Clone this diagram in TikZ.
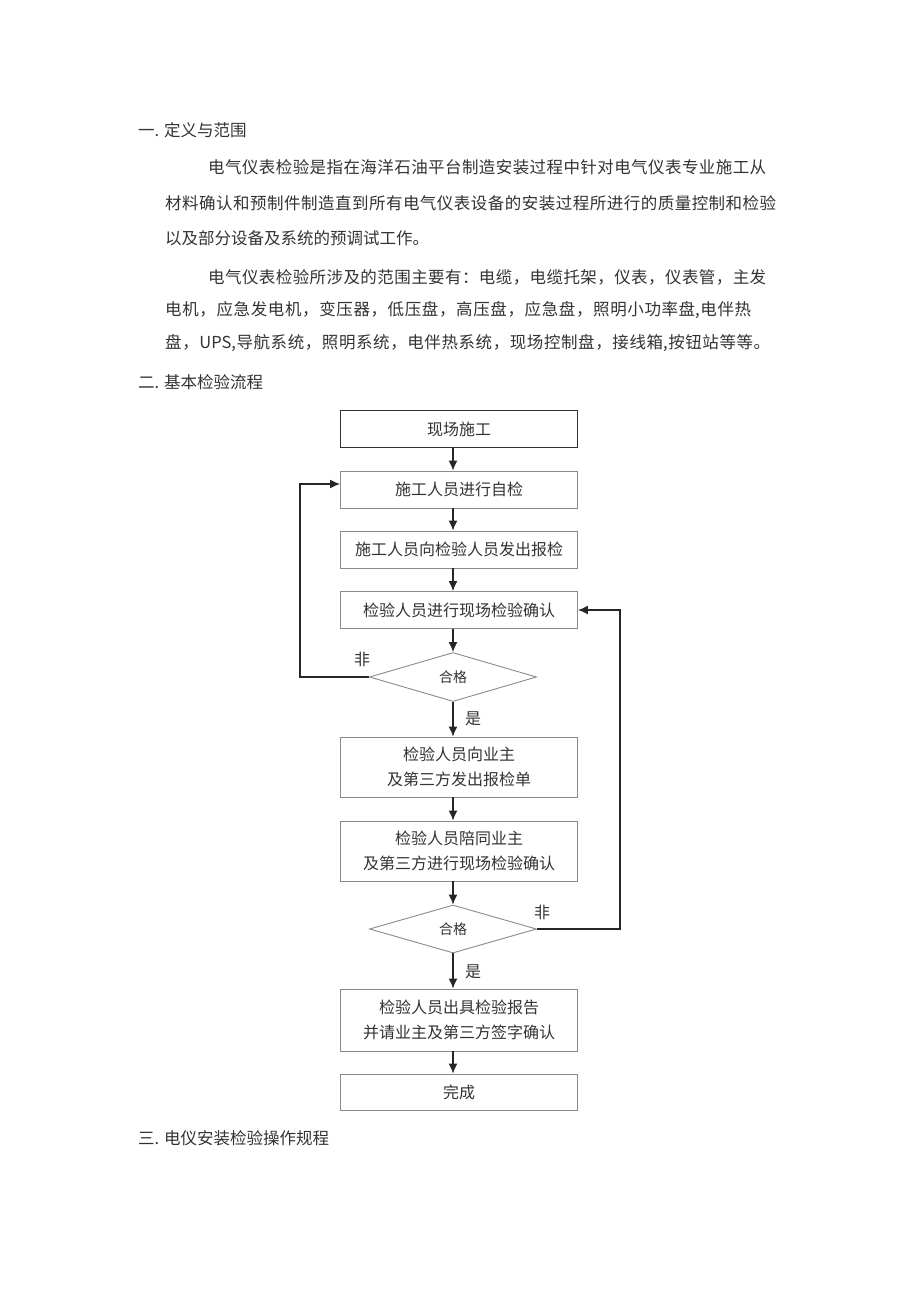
\documentclass[tikz,border=0pt]{standalone}
\usepackage{fontspec}
\setmainfont{Noto Sans CJK SC}
\usetikzlibrary{shapes.geometric,arrows.meta}
\definecolor{inkgray}{HTML}{333333}
\definecolor{boxgray}{HTML}{8A8A8A}
\definecolor{linegray}{HTML}{262626}
\newcommand{\bodySize}[0]{\fontsize{16.5}{20}\selectfont}
\newcommand{\flowSize}[0]{\fontsize{16}{25}\selectfont}
\newcommand{\smallSize}[0]{\fontsize{14}{16}\selectfont}
\newcommand{\boxWidth}[0]{237pt}
\makeatletter
\newcommand{\spreadline}[2]{\makebox[#1][s]{\@tfor\zch:=#2\do{\zch\hfil}\unskip}}
\makeatother

\begin{document}
\begin{tikzpicture}[x=1pt, y=-1pt]
  \tikzset{every node/.style={inner sep=0pt},
    bodyline/.style={anchor=west, font=\bodySize, text=inkgray},
    stepbox/.style={draw=boxgray, line width=0.9pt, minimum width=\boxWidth,
      minimum height=37pt, align=center, font=\flowSize, text=inkgray},
    startbox/.style={stepbox, draw=black!80, line width=1.6pt},
    checkbox/.style={diamond, aspect=3.4, draw=boxgray, line width=0.9pt,
      minimum width=167pt, minimum height=49pt, font=\smallSize, text=inkgray},
    flow/.style={-{Latex[length=10pt,width=9pt]}, line width=1.4pt, draw=linegray},
    tag/.style={font=\flowSize, text=inkgray}}
  \fill[white] (0,0) rectangle (920,1301);
  \useasboundingbox (0,0) rectangle (920,1301);

  % text above and below the chart
  \node[bodyline] (head1) at (138,130) {一. 定义与范围};
  \node[bodyline] (def1) at (208,167) {\spreadline{558pt}{电气仪表检验是指在海洋石油平台制造安装过程中针对电气仪表专业施工从}};
  \node[bodyline] (def2) at (165,203) {\spreadline{611pt}{材料确认和预制件制造直到所有电气仪表设备的安装过程所进行的质量控制和检验}};
  \node[bodyline] (def3) at (165,238) {以及部分设备及系统的预调试工作。};
  \node[bodyline] (scope1) at (208,277) {\spreadline{558pt}{电气仪表检验所涉及的范围主要有：电缆，电缆托架，仪表，仪表管，主发}};
  \node[bodyline] (scope2) at (165,310) {\spreadline{586pt}{电机，应急发电机，变压器，低压盘，高压盘，应急盘，照明小功率{盘,}电伴热}};
  \node[bodyline] (scope3) at (165,343) {\spreadline{605pt}{盘，{UPS,}导航系统，照明系统，电伴热系统，现场控制盘，接线{箱,}按钮站等等。}};
  \node[bodyline] (head2) at (138,382) {二. 基本检验流程};
  \node[bodyline] (head3) at (138,1138) {三. 电仪安装检验操作规程};

  % flow chart
  \node[startbox] (b1) at (459,429) {现场施工};
  \node[stepbox] (b2) at (459,489.5) {施工人员进行自检};
  \node[stepbox] (b3) at (459,549.5) {施工人员向检验人员发出报检};
  \node[stepbox] (b4) at (459,610) {检验人员进行现场检验确认};
  \node[checkbox] (d1) at (453,677) {合格};
  \node[stepbox, minimum height=60pt] (b5) at (459,767) {检验人员向业主\\及第三方发出报检单};
  \node[stepbox, minimum height=60pt] (b6) at (459,851) {检验人员陪同业主\\及第三方进行现场检验确认};
  \node[checkbox, minimum height=48pt] (d2) at (453,929) {合格};
  \node[stepbox, minimum height=62pt] (b7) at (459,1020) {检验人员出具检验报告\\并请业主及第三方签字确认};
  \node[stepbox, minimum height=36pt] (b8) at (459,1092) {完成};

  \node[tag] (no1) at (362,659) {非};
  \node[tag] (yes1) at (473,719) {是};
  \node[tag] (no2) at (542,912) {非};
  \node[tag] (yes2) at (473,972) {是};

  \coordinate (backL) at (300,677);
  \coordinate (backR) at (620,929);

  \draw[flow] (b1.south -| d1) -- (b2.north -| d1);
  \draw[flow] (b2.south -| d1) -- (b3.north -| d1);
  \draw[flow] (b3.south -| d1) -- (b4.north -| d1);
  \draw[flow] (b4.south -| d1) -- (d1.north);
  \draw[flow] (d1.south) -- (b5.north -| d1);
  \draw[flow] (b5.south -| d1) -- (b6.north -| d1);
  \draw[flow] (b6.south -| d1) -- (d2.north);
  \draw[flow] (d2.south) -- (b7.north -| d2);
  \draw[flow] (b7.south -| d2) -- (b8.north -| d2);
  % loops back
  \draw[flow] (d1.west) -- (backL) |- ([yshift=5.5pt]b2.west);
  \draw[flow] (d2.east) -- (backR) |- (b4.east);
\end{tikzpicture}
\end{document}
